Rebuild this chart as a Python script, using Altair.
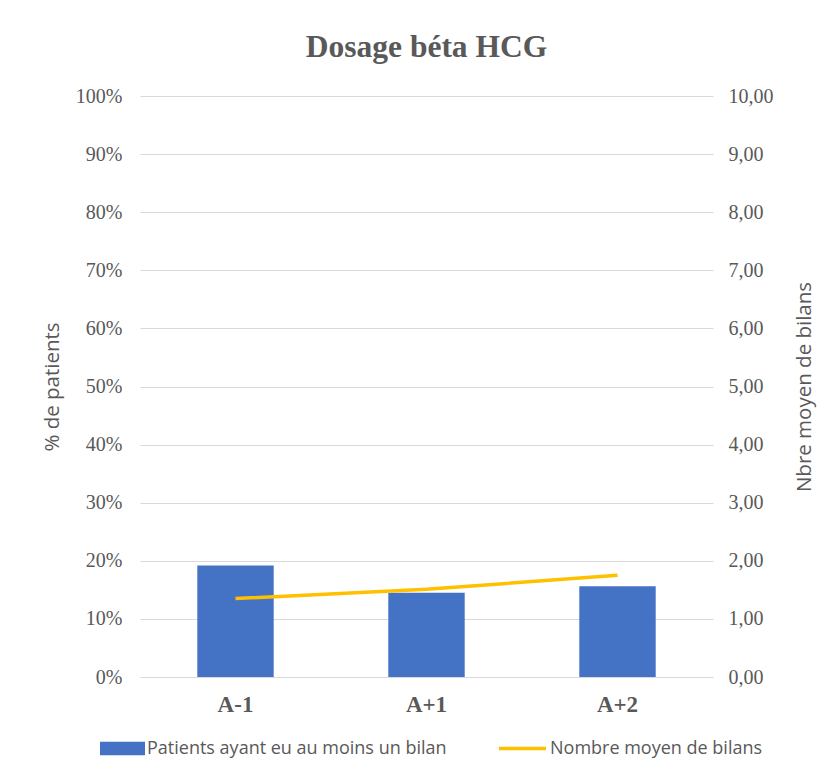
import altair as alt
import pandas as pd

categories = ["A-1", "A+1", "A+2"]
pct_patients = [19.2, 14.5, 15.6]
mean_bilans = [1.35, 1.51, 1.75]
left_ticks = [0, 10, 20, 30, 40, 50, 60, 70, 80, 90, 100]
right_ticks = [0, 1, 2, 3, 4, 5, 6, 7, 8, 9, 10]

bar_name = "Patients ayant eu au moins un bilan"
line_name = "Nombre moyen de bilans"

df = pd.DataFrame({
    "cat": categories,
    "pct": pct_patients,
    "mean": mean_bilans,
    "s_bar": [bar_name] * 3,
    "s_line": [line_name] * 3,
})

GRAY = "#595959"
SERIF = "Liberation Serif"
SANS = "Open Sans"

x_enc = alt.X(
    "cat:N",
    sort=categories,
    scale=alt.Scale(paddingInner=0.6, paddingOuter=0.3),
    axis=alt.Axis(
        title=None, labelAngle=0, labelFont=SERIF, labelFontWeight="bold",
        labelFontSize=23, labelColor=GRAY, labelPadding=16, ticks=False,
        domain=False, grid=False,
    ),
)

bars = alt.Chart(df).mark_bar().encode(
    x=x_enc,
    y=alt.Y(
        "pct:Q",
        scale=alt.Scale(domain=[0, 100]),
        axis=alt.Axis(
            values=left_ticks, labelExpr="datum.value + '%'", title="% de patients",
            titleFont=SANS, titleFontSize=20.5, titleFontWeight="normal", titleColor=GRAY,
            titlePadding=13, labelFont=SERIF, labelFontSize=20, labelColor=GRAY,
            labelPadding=18, ticks=False, domain=False, grid=True,
            gridColor="#d9d9d9", gridWidth=1,
        ),
    ),
    fill=alt.Fill(
        "s_bar:N",
        scale=alt.Scale(range=["#4472C4"]),
        legend=alt.Legend(
            title=None, orient="none", legendX=-40, legendY=630,
            symbolType="M-1,-0.3H1V0.3H-1Z", symbolSize=2025, symbolStrokeWidth=0,
            labelFont=SANS, labelFontSize=18, labelColor=GRAY, labelOffset=2,
            labelLimit=500,
        ),
    ),
)

line = alt.Chart(df).mark_line(strokeWidth=3.5).encode(
    x=x_enc,
    y=alt.Y(
        "mean:Q",
        scale=alt.Scale(domain=[0, 10]),
        axis=alt.Axis(
            orient="right", values=right_ticks,
            labelExpr="replace(format(datum.value, '.2f'), '.', ',')",
            title="Nbre moyen de bilans", titleFont=SANS, titleFontSize=20.5,
            titleFontWeight="normal", titleColor=GRAY, titlePadding=41, titleAngle=-90,
            labelFont=SERIF, labelFontSize=20, labelColor=GRAY, labelPadding=15,
            ticks=False, domain=False, grid=False,
        ),
    ),
    stroke=alt.Stroke(
        "s_line:N",
        scale=alt.Scale(range=["#FFC000"]),
        legend=alt.Legend(
            title=None, orient="none", legendX=357, legendY=627,
            symbolType="stroke", symbolSize=2209, symbolStrokeWidth=3.5,
            labelFont=SANS, labelFontSize=18, labelColor=GRAY, labelOffset=2,
            labelLimit=500,
        ),
    ),
)

chart = (
    alt.layer(bars, line)
    .resolve_scale(y="independent", fill="independent", stroke="independent")
    .properties(
        width=573,
        height=581,
        view=alt.ViewBackground(strokeWidth=0, strokeOpacity=0),
        title=alt.TitleParams(
            "Dosage béta HCG", font=SERIF, fontSize=31.5, fontWeight="bold",
            color=GRAY, anchor="middle", offset=23,
        ),
        autosize=alt.AutoSizeParams(type="none"),
        padding={"left": 132, "top": 88, "right": 115, "bottom": 93},
    )
    .configure_view(stroke="transparent", strokeWidth=0)
    .configure_axis(domain=False)
    .configure(background="white")
)

chart.save("out.html", embed_options={"renderer": "svg", "actions": False})
